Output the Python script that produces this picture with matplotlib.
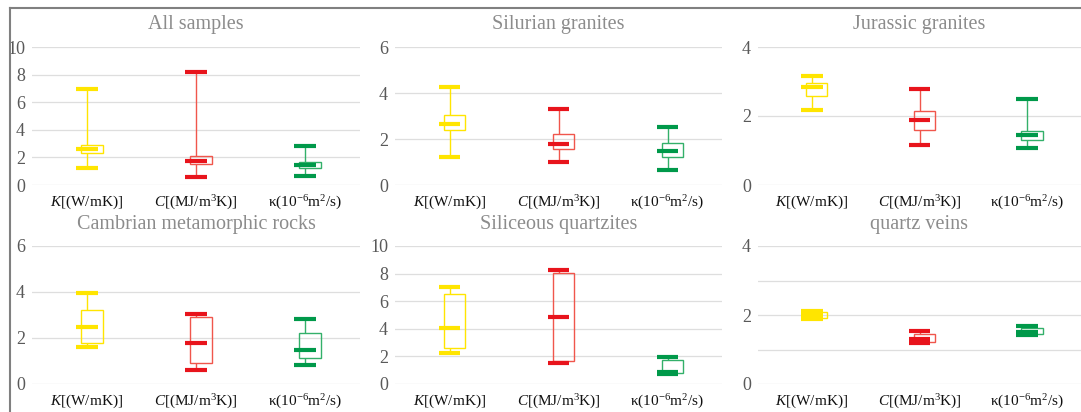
import matplotlib
matplotlib.use("Agg")
import matplotlib.pyplot as plt
from matplotlib.lines import Line2D

plt.rcParams["font.family"] = ["Liberation Serif", "DejaVu Serif"]
plt.rcParams["mathtext.fontset"] = "custom"
plt.rcParams["mathtext.rm"] = "Liberation Serif"
plt.rcParams["mathtext.it"] = "Liberation Serif:italic"

PANELS = ["All samples", "Silurian granites", "Jurassic granites",
          "Cambrian metamorphic rocks", "Siliceous quartzites", "quartz veins"]
CATEGORIES = [r"$K$[(W/mK)]", r"$C$[(MJ/m$^{3}$K)]", r"κ(10$^{-6}$m$^{2}$/s)"]
Y_MAX = [10, 6, 4, 6, 10, 4]
Y_STEP = [2, 2, 2, 2, 2, 2]
MINOR_GRID = [False, False, False, False, False, True]

# per panel: [K, C, kappa]
MINS = [[1.2, 0.58, 0.65], [1.23, 1.01, 0.65], [2.16, 1.16, 1.06],
        [1.6, 0.59, 0.82], [2.27, 1.49, 0.72], [1.88, 1.2, 1.42]]
Q1S = [[2.33, 1.49, 1.25], [2.41, 1.58, 1.23], [2.57, 1.6, 1.31],
       [1.79, 0.92, 1.11], [2.63, 1.66, 0.8], [1.9, 1.22, 1.46]]
MEDIANS = [[2.64, 1.73, 1.44], [2.64, 1.79, 1.46], [2.84, 1.89, 1.45],
           [2.5, 1.79, 1.47], [4.05, 4.82, 0.85], [2.0, 1.3, 1.5]]
Q3S = [[2.93, 2.13, 1.65], [3.06, 2.23, 1.81], [2.95, 2.14, 1.57],
       [3.22, 2.93, 2.2], [6.53, 8.07, 1.71], [2.1, 1.44, 1.62]]
MAXS = [[6.93, 8.18, 2.8], [4.26, 3.32, 2.54], [3.15, 2.79, 2.5],
        [3.95, 3.06, 2.83], [7.01, 8.27, 1.95], [2.12, 1.55, 1.68]]

CAP_COLORS = ["#FFE500", "#E8141C", "#00994A"]
BOX_COLORS = ["#FFE500", "#F0564C", "#33B06A"]

W, H = 1081, 412
# panel rectangles in pixels: x0, x1, y_top, y_bottom
RECTS = [(32, 360, 47, 185), (395, 722, 47, 185), (758, 1081, 47, 185),
         (32, 360, 246, 384), (395, 722, 246, 384), (758, 1081, 246, 384)]

fig = plt.figure(figsize=(W / 100, H / 100), dpi=100)

for i, name in enumerate(PANELS):
    x0, x1, yt, yb = RECTS[i]
    ax = fig.add_axes([x0 / W, 1 - yb / H, (x1 - x0) / W, (yb - yt) / H])
    ax.set_xlim(-0.5, 2.5)
    ax.set_ylim(0, Y_MAX[i])
    ticks = list(range(0, Y_MAX[i] + 1, Y_STEP[i]))
    ax.set_yticks(ticks)
    if MINOR_GRID[i]:
        ax.set_yticks([t + 1 for t in ticks[:-1]], minor=True)
        ax.tick_params(axis="y", which="minor", length=0)
        ax.grid(axis="y", which="minor", color="#DEDEDE", lw=0.9)
    ax.grid(axis="y", color="#DEDEDE", lw=0.9)
    ax.set_axisbelow(True)
    for s in ax.spines.values():
        s.set_visible(False)
    ax.set_xticks(range(3))
    ax.set_xticklabels(CATEGORIES, fontsize=11, color="#111111")
    ax.tick_params(axis="x", length=0, pad=6)
    ax.tick_params(axis="y", length=0, pad=5, labelsize=13, labelcolor="#595959")

    for j in range(3):
        lo, q1, med, q3, hi = MINS[i][j], Q1S[i][j], MEDIANS[i][j], Q3S[i][j], MAXS[i][j]
        ax.vlines(j, q3, hi, color=BOX_COLORS[j], lw=1.0, zorder=2)
        ax.vlines(j, lo, q1, color=BOX_COLORS[j], lw=1.0, zorder=2)
        ax.bar(j + 0.045, q3 - q1, bottom=q1, width=0.2, fill=False,
               edgecolor=BOX_COLORS[j], lw=1.0, zorder=3)
        ax.hlines([lo, hi, med], j - 0.1, j + 0.1, color=CAP_COLORS[j],
                  lw=3.0, zorder=4)

    fig.text((x0 + x1) / 2 / W, 1 - (yt - 22) / H, name, ha="center", va="center",
             fontsize=14.5, color="#8C8C8C")

fig.add_artist(Line2D([10 / W, 1], [1 - 8 / H, 1 - 8 / H], color="#808080", lw=1.5))
fig.add_artist(Line2D([10 / W, 10 / W], [0, 1 - 8 / H], color="#808080", lw=1.5))

fig.savefig("out.png", dpi=100)
